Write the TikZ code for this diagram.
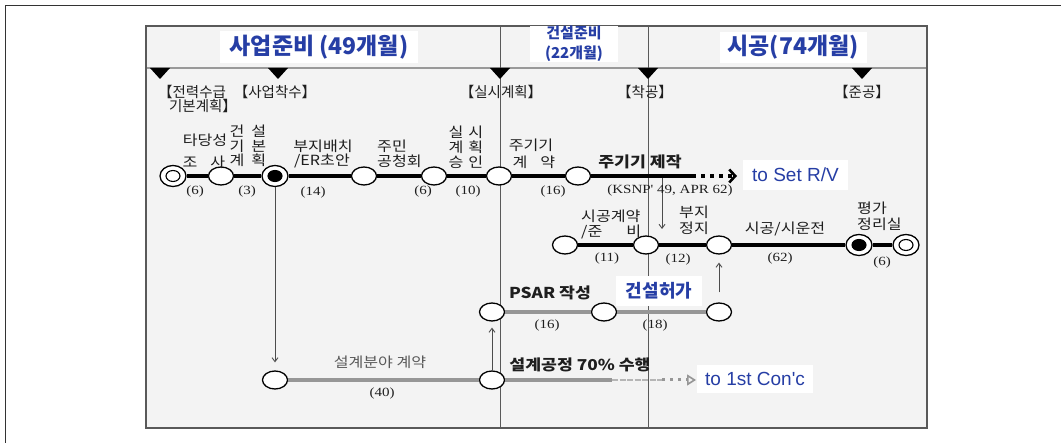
\documentclass[tikz,border=0pt]{standalone}
\usepackage{fontspec}
\usetikzlibrary{shapes.geometric,arrows.meta}
\newfontfamily\kr{Noto Sans CJK KR}[FakeStretch=1.15]
\newfontfamily\krt{Noto Sans CJK KR}
\newfontfamily\nums{Liberation Serif}[FakeStretch=1.2]
\newfontfamily\lat{Liberation Sans}
\definecolor{blu}{RGB}{38,62,165}
\definecolor{txt}{RGB}{30,30,30}
\definecolor{bg}{RGB}{243,243,243}
\definecolor{gline}{RGB}{150,150,150}
\begin{document}
\begin{tikzpicture}[x=1pt,y=-1pt,
  ev/.style={ellipse, draw=black, fill=white, line width=1.3pt, minimum width=25pt, minimum height=18pt, inner sep=0pt},
  evo/.style={ellipse, draw=black, fill=white, line width=1.3pt, minimum width=26pt, minimum height=21pt, inner sep=0pt},
  evin/.style={ellipse, draw=black, fill=white, line width=1.1pt, minimum width=14pt, minimum height=11pt, inner sep=0pt},
  evfill/.style={evin, fill=black},
  lab/.style={font=\kr\fontsize{14}{16}\selectfont, text=txt, inner sep=0pt},
  labb/.style={font=\kr\bfseries\fontsize{15}{16}\selectfont, text=txt, inner sep=0pt},
  ms/.style={font=\krt\fontsize{14.5}{16}\selectfont, text=txt, inner sep=0pt},
  dur/.style={font=\nums\fontsize{12.5}{14}\selectfont, text=txt, inner sep=0pt},
  title/.style={fill=white, text=blu, font=\krt\bfseries\fontsize{23}{25}\selectfont, inner sep=0pt},
  bluebox/.style={fill=white, text=blu, font=\lat\fontsize{19}{22}\selectfont, inner sep=0pt},
  mainln/.style={line width=4pt, draw=black},
  grayln/.style={line width=4pt, draw=gline},
  vline/.style={line width=1pt, draw=black!65},
  arr/.style={line width=0.9pt, draw=black!70, -{Straight Barb[length=4pt,width=6pt]}}
]
\useasboundingbox (0,0) rectangle (1061,443);
% frames
\draw[line width=1.5pt, black!80] (5.5,443) -- (5.5,5.5) -- (1061,5.5);
\draw[line width=2.4pt, black!65, fill=bg] (146,26) rectangle (927,428);
\draw[line width=2pt, black!40] (147,68) -- (926,68);
\draw[vline] (500,26) -- (500,428);
\draw[vline] (648,26) -- (648,428);
\foreach \x in {160,278,500,648,862} \fill (\x-10,68) -- (\x+10,68) -- (\x,79) -- cycle;

% titles
\node[title, minimum width=198pt, minimum height=32pt] (t1) at (319,47) {사업준비 (49개월)};
\node[title, minimum width=88pt, minimum height=36pt, align=center, font=\krt\bfseries\fontsize{15}{20}\selectfont] (t2) at (574,44) {건설준비\\(22개월)};
\node[title, minimum width=147pt, minimum height=31pt] (t3) at (793,47.5) {시공(74개월)};

% milestones
\node[ms] (m1a) at (192,92) {【전력수급};
\node[ms] (m1b) at (203,106) {기본계획】};
\node[ms] (m2) at (275,92) {【사업착수】};
\node[ms] (m3) at (501,92) {【실시계획】};
\node[ms] (m4) at (645,92) {【착공】};
\node[ms] (m5) at (862,92) {【준공】};

% row 1 nodes
\node[evo] (a1) at (173,176) {};
\node[evin] (a1i) at (a1) {};
\node[ev] (a2) at (221,176) {};
\node[evo] (a3) at (275,176) {};
\node[evfill] (a3i) at (a3) {};
\node[ev] (a4) at (364,176) {};
\node[ev] (a5) at (434,176) {};
\node[ev] (a6) at (499,176) {};
\node[ev] (a7) at (578,176) {};
\coordinate (a7e) at (692,176);
\coordinate (a7t) at (737,176);
\coordinate (k1) at (662,178);
\coordinate (k2) at (662,229);

% row 2 nodes
\node[ev] (b1) at (565,245) {};
\node[ev] (b2) at (646,245) {};
\node[ev] (b3) at (719,245) {};
\node[evo] (b4) at (859,245) {};
\node[evfill] (b4i) at (b4) {};
\node[evo] (b5) at (906,245) {};
\node[evin] (b5i) at (b5) {};

% row 3 nodes
\node[ev] (p1) at (492,312) {};
\node[ev] (p2) at (604,312) {};
\node[ev] (p3) at (719,312) {};

% row 4 nodes
\node[ev] (d1) at (275,380) {};
\node[ev] (d2) at (492,380) {};
\coordinate (d2e) at (612,380);
\coordinate (d2f) at (662,380);
\coordinate (d2t) at (696,380);

% connectors
\draw[mainln] (a1) -- (a2);
\draw[mainln] (a2) -- (a3);
\draw[mainln] (a3) -- (a4);
\draw[mainln] (a4) -- (a5);
\draw[mainln] (a5) -- (a6);
\draw[mainln] (a6) -- (a7);
\draw[mainln] (a7) -- (a7e);
\draw[line width=4pt, dash pattern=on 4pt off 5pt, -{Straight Barb[length=6pt,width=13pt,line width=2.6pt]}] (a7e) -- (a7t);
\draw[mainln] (b1) -- (b2);
\draw[mainln] (b2) -- (b3);
\draw[mainln] (b3) -- (b4);
\draw[mainln] (b4) -- (b5);
\draw[grayln] (p1) -- (p2);
\draw[grayln] (p2) -- (p3);
\draw[grayln] (d1) -- (d2);
\draw[grayln] (d2) -- (d2e);
\draw[line width=2.5pt, draw=gline!70, dash pattern=on 6pt off 1.5pt] (d2e) -- (d2f);
\draw[line width=3pt, draw=gline, dash pattern=on 3pt off 5pt, -{Triangle[open,length=9pt,width=11pt,line width=1.6pt]}] (d2f) -- (d2t);
\draw[arr, shorten >=8pt] (a3) -- (d1);
\draw[arr, shorten >=6pt] (d2) -- (p1);
\draw[arr, shorten <=10pt, shorten >=8pt] (p3) -- (b3);
\draw[arr] (k1) -- (k2);

% row 1 labels
\node[lab] (l1a) at (205,140) {타당성};
\node[lab] (l1b) at (204,162) {조\hspace{13pt}사};
\node[lab] (l2a) at (248,131) {건\hspace{7pt}설};
\node[lab] (l2b) at (248,146) {기\hspace{7pt}본};
\node[lab] (l2c) at (248,160) {계\hspace{7pt}획};
\node[lab] (l3a) at (323,146) {부지배치};
\node[lab] (l3b) at (322,161) {/ER초안};
\node[lab, anchor=west] (l4a) at (377,146) {주민};
\node[lab, anchor=west] (l4b) at (377,161) {공청회};
\node[lab] (l5a) at (466,132) {실\hspace{5pt}시};
\node[lab] (l5b) at (466,147) {계\hspace{5pt}획};
\node[lab] (l5c) at (466,162) {승\hspace{5pt}인};
\node[lab] (l6a) at (531,145) {주기기};
\node[lab] (l6b) at (534,162) {계\hspace{13pt}약};
\node[labb] (l7) at (640,162) {주기기 제작};
\node[dur] (l7b) at (670,190) {(KSNP' 49, APR 62)};
\node[dur] (q1) at (195,191) {(6)};
\node[dur] (q2) at (247,191) {(3)};
\node[dur] (q3) at (313,192) {(14)};
\node[dur] (q4) at (423,191) {(6)};
\node[dur] (q5) at (468,191) {(10)};
\node[dur] (q6) at (553,191) {(16)};
\node[bluebox, minimum width=105pt, minimum height=30pt] (rv) at (795.5,175) {to Set R/V};

% row 2 labels
\node[lab, anchor=west] (r1a) at (581,216) {시공계약};
\node[lab, anchor=west] (r1b) at (581,232) {/준\hspace{24pt}비};
\node[lab] (r2a) at (694,212) {부지};
\node[lab] (r2b) at (694,228) {정지};
\node[lab] (r3) at (785,229) {시공/시운전};
\node[lab, anchor=west] (r4a) at (857,208) {평가};
\node[lab, anchor=west] (r4b) at (857,224) {정리실};
\node[dur] (s1) at (607,258) {(11)};
\node[dur] (s2) at (678,259) {(12)};
\node[dur] (s3) at (780,258) {(62)};
\node[dur] (s4) at (882,262) {(6)};

% row 3 labels
\node[labb] (pl) at (550,293) {PSAR 작성};
\node[title, minimum width=86pt, minimum height=30pt, font=\krt\bfseries\fontsize{18}{20}\selectfont] (gh) at (659,291) {건설허가};
\node[dur] (u1) at (547,325) {(16)};
\node[dur] (u2) at (655,325) {(18)};

% row 4 labels
\node[lab, text=black!65] (dl) at (380,362) {설계분야 계약};
\node[dur] (v1) at (382,393) {(40)};
\node[labb] (dl2) at (580,365) {설계공정 70\% 수행};
\node[bluebox, anchor=west, minimum height=28pt, inner xsep=8pt] (cc) at (697,379) {to 1st Con'c\hspace{40pt}};
\end{tikzpicture}
\end{document}
